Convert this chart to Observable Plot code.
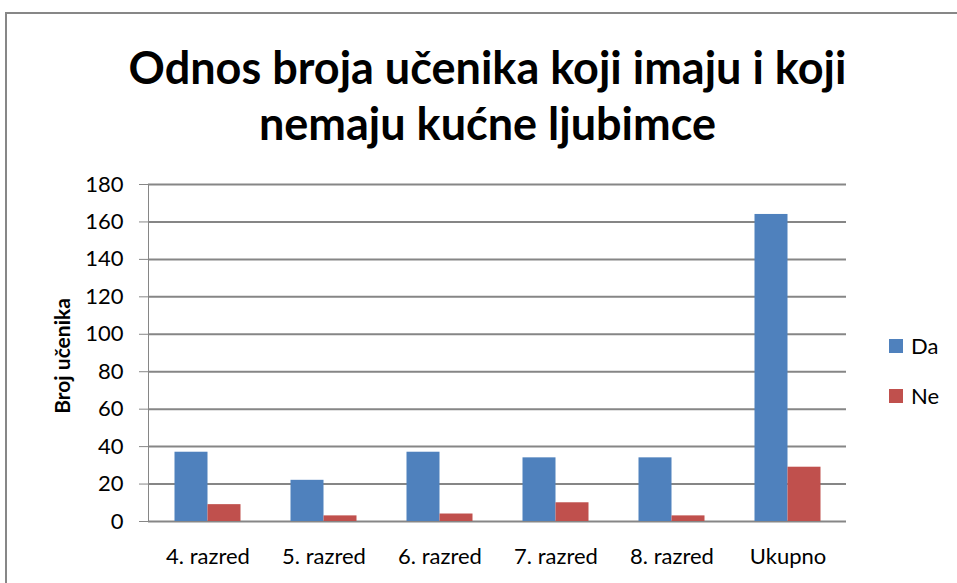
<!DOCTYPE html>
<html>
<head>
<meta charset="utf-8">
<script src="https://cdn.jsdelivr.net/npm/d3@7"></script>
<script src="https://cdn.jsdelivr.net/npm/@observablehq/plot@0.6"></script>
<style>
  body { margin: 0; background: #fff; }
  #wrap { position: relative; width: 957px; height: 583px; overflow: hidden; font-family: Lato, "Open Sans", sans-serif; background: #fff; }
  #border { position: absolute; left: 5px; top: 12px; width: 1200px; height: 800px; border-left: 2px solid #878787; border-top: 2px solid #878787; box-sizing: border-box; }
  #title { position: absolute; left: 0; width: 975px; top: 39px; text-align: center; font-weight: bold; font-size: 45px; line-height: 56px; color: #000; }
  #chart { position: absolute; left: 0; top: 0; }
  #chart svg text { fill: #000; }
  #ylabel { position: absolute; left: 61px; top: 356px; transform: translate(-50%, -50%) rotate(-90deg); font-weight: bold; font-size: 21px; white-space: nowrap; color: #000; }
  .leg { position: absolute; left: 889px; font-size: 22px; color: #000; display: flex; align-items: center; }
  .sw { width: 14px; height: 14px; margin-right: 8px; }
</style>
</head>
<body>
<div id="wrap">
  <div id="border"></div>
  <div id="title">Odnos broja učenika koji imaju i koji<br>nemaju kućne ljubimce</div>
  <div id="chart"></div>
  <div id="ylabel">Broj učenika</div>
  <div id="legend"></div>
</div>
<script>
const categories = ["4. razred", "5. razred", "6. razred", "7. razred", "8. razred", "Ukupno"];
const seriesNames = ["Da", "Ne"];
const daValues = [37, 22, 37, 34, 34, 164];
const neValues = [9, 3, 4, 10, 3, 29];
const yTicks = [0, 20, 40, 60, 80, 100, 120, 140, 160, 180];
const colors = ["#4F81BD", "#C0504D"];

const da = categories.map((c, i) => ({cat: c, value: daValues[i], series: "Da"}));
const ne = categories.map((c, i) => ({cat: c, value: neValues[i], series: "Ne"}));

const chart = Plot.plot({
  width: 957,
  height: 583,
  marginLeft: 148,
  marginRight: 111,
  marginTop: 184,
  marginBottom: 62,
  style: { color: "#868686", fontFamily: "Lato, 'Open Sans', sans-serif", fontSize: "22px", background: "transparent" },
  x: { domain: categories, paddingInner: 0.716, paddingOuter: 0.358, tickSize: 0, tickPadding: 27, label: null },
  y: { domain: [0, 180], ticks: yTicks, tickSize: 9, tickPadding: 16, line: true, label: null },
  color: { domain: seriesNames, range: colors },
  marks: [
    Plot.ruleY(yTicks, { stroke: "#868686", strokeWidth: 2 }),
    Plot.barY(da, { x: "cat", y: "value", fill: "series", dx: -16.5 }),
    Plot.barY(ne, { x: "cat", y: "value", fill: "series", dx: 16.5 })
  ]
});
document.getElementById("chart").appendChild(chart);

const legend = document.getElementById("legend");
seriesNames.forEach((s, i) => {
  const d = document.createElement("div");
  d.className = "leg";
  d.style.top = (332 + i * 50) + "px";
  d.innerHTML = `<span class="sw" style="background:${colors[i]}"></span><span>${s}</span>`;
  legend.appendChild(d);
});
</script>
</body>
</html>
